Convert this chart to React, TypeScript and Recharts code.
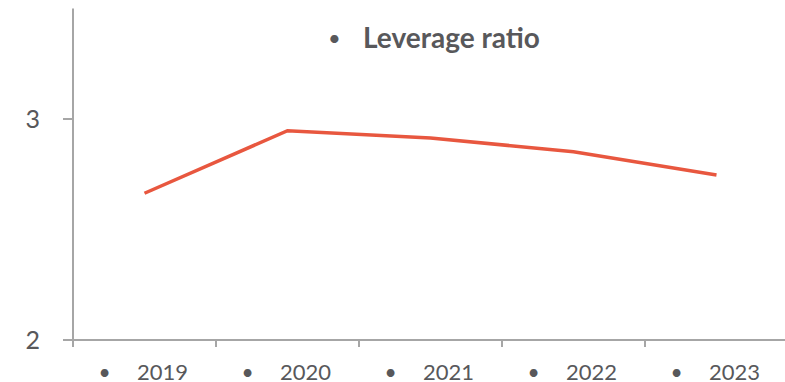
import { LineChart, Line, XAxis, YAxis, Legend } from "recharts";

const years = ["2019", "2020", "2021", "2022", "2023"];
const leverageRatio = [2.664, 2.947, 2.914, 2.852, 2.747];
const yTicks = [2, 3];

const data = years.map((year, i) => ({ year, leverage: leverageRatio[i] }));

const AXIS = "#a6a6a6";
const TEXT = "#58585b";
const FONT = "Lato, 'Open Sans', sans-serif";
const BAND = 143;

function YearTick(props: any) {
  const { x, y, payload } = props;
  const half = payload?.offset || BAND / 2;
  return (
    <g>
      <line x1={x - half} x2={x - half} y1={y} y2={y + 7} stroke={AXIS} strokeWidth={2} />
      <text x={x - 40} y={y + 40} textAnchor="middle" fill={TEXT} fontSize={21} fontFamily={FONT}>
        •
      </text>
      <text x={x - 7.5} y={y + 40} textAnchor="start" fill={TEXT} fontSize={22} fontFamily={FONT}>
        {payload.value}
      </text>
    </g>
  );
}

function LegendBox() {
  return (
    <div style={{ display: "flex", alignItems: "center", fontFamily: FONT, color: TEXT, whiteSpace: "nowrap" }}>
      <span style={{ fontSize: 22, width: 35 }}>•</span>
      <span style={{ fontSize: 28, fontWeight: 700 }}>Leverage ratio</span>
    </div>
  );
}

export default function App() {
  return (
    <div style={{ position: "absolute", left: 0, top: 0, width: 785, height: 382, overflow: "hidden", background: "#fff" }}>
      <LineChart width={790} height={382} data={data} margin={{ top: 8.5, right: 2, bottom: 0, left: 0 }}>
        <XAxis
          dataKey="year"
          scale="band"
          height={42}
          tickSize={0}
          tickMargin={0}
          tickLine={false}
          axisLine={{ stroke: AXIS, strokeWidth: 2 }}
          tick={<YearTick />}
          interval={0}
        />
        <YAxis
          width={73}
          domain={[2, 3.5]}
          ticks={yTicks}
          tickSize={10}
          tickMargin={23}
          axisLine={{ stroke: AXIS, strokeWidth: 2 }}
          tickLine={{ stroke: AXIS, strokeWidth: 2 }}
          tick={{ fill: TEXT, fontSize: 25, fontFamily: FONT }}
        />
        <Legend
          verticalAlign="middle"
          content={<LegendBox />}
          wrapperStyle={{ top: 20, left: 328, width: "auto" }}
        />
        <Line
          type="linear"
          dataKey="leverage"
          name="Leverage ratio"
          stroke="#e8573f"
          strokeWidth={3.5}
          dot={false}
          isAnimationActive={false}
        />
      </LineChart>
    </div>
  );
}
